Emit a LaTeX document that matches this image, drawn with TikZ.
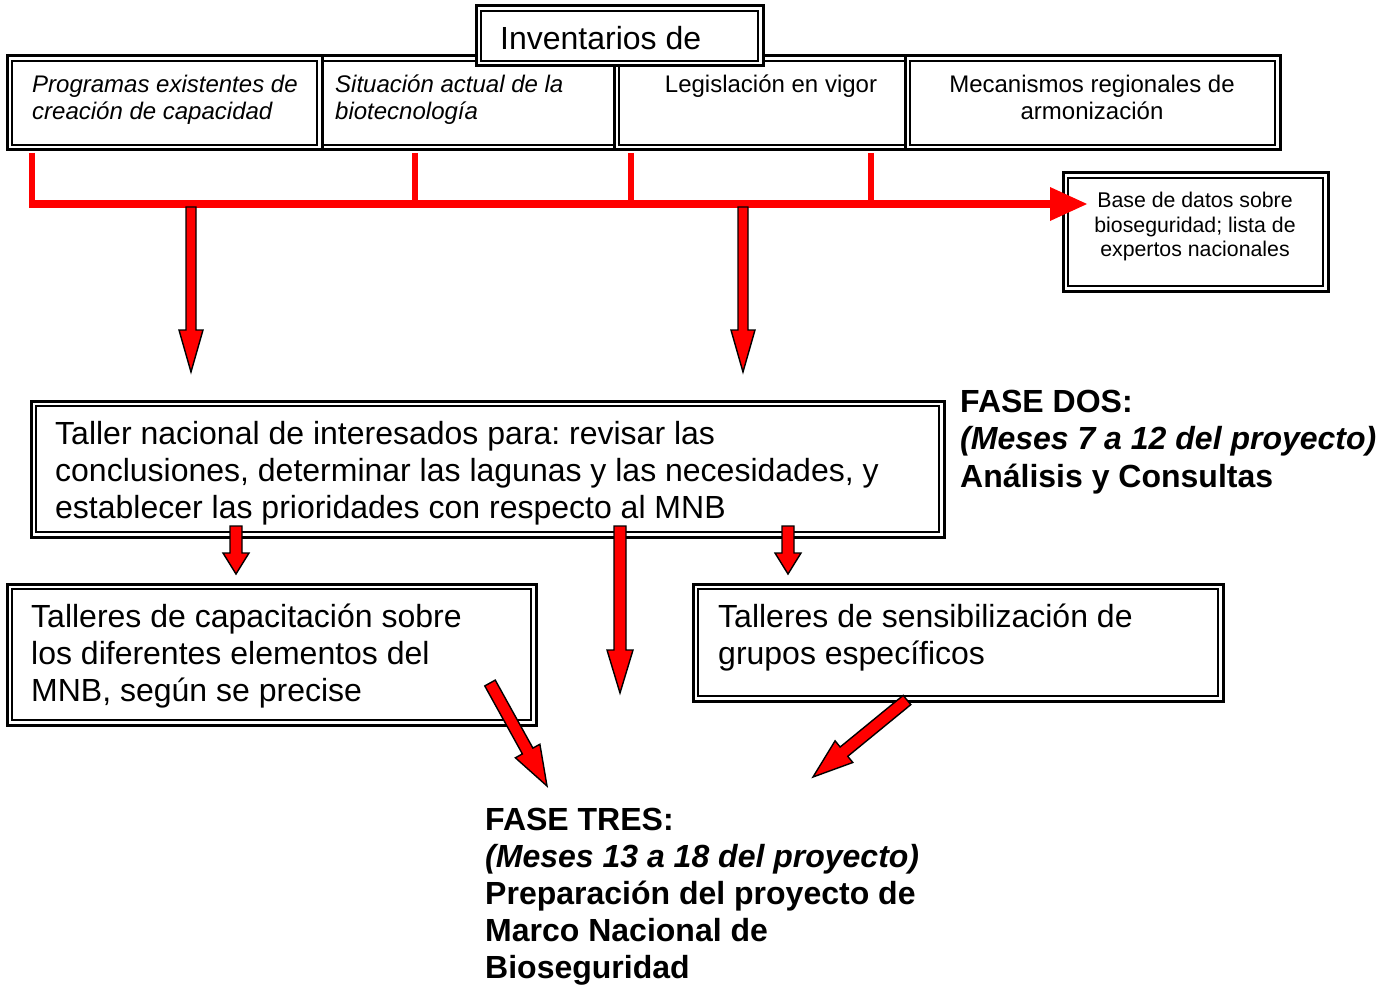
\documentclass[tikz,border=0pt]{standalone}
\usepackage{fontspec}
\setmainfont{Liberation Sans}
\usetikzlibrary{calc}
\frenchspacing

\tikzset{
  obox/.style={draw, line width=3pt, fill=white, inner sep=0pt, outer sep=0pt},
  ibox/.style={draw, line width=1.5pt},
  big/.style={font=\fontsize{32}{37}\selectfont},
  bigb/.style={font=\fontsize{32}{37.5}\selectfont\bfseries},
  bigc/.style={font=\fontsize{32}{37}\selectfont\bfseries},
  mid/.style={font=\fontsize{24}{27.5}\selectfont},
  midi/.style={font=\fontsize{24}{27.5}\selectfont\itshape},
  sml/.style={font=\fontsize{21.3}{24.5}\selectfont},
  txtl/.style={anchor=north west, inner sep=0pt, align=left},
  txtc/.style={anchor=north, inner sep=0pt, align=center},
  redline/.style={draw=red, line width=5.5pt},
  blockarrow/.style={fill=red, draw=black, line width=1.4pt, line join=miter},
}

\newcommand\dblbox[5]{%
  \node[obox, anchor=north west, minimum width={(#4-#2)*1pt}, minimum height={(#5-#3)*1pt}] (#1) at (#2,#3) {};
  \draw[ibox] ([shift={(5,-5)}]#1.south west) rectangle ([shift={(-5,5)}]#1.north east);
}

\newcommand\blockarr[5]{%
  \coordinate (hb) at ($(#2)!#5!(#1)$);
  \draw[blockarrow] ($(#1)!#3!90:(#2)$) -- ($(hb)!#3!90:(#2)$) -- ($(hb)!#4!90:(#2)$) -- (#2)
     -- ($(hb)!#4!-90:(#2)$) -- ($(hb)!#3!-90:(#2)$) -- ($(#1)!#3!-90:(#2)$) -- cycle;
}

\begin{document}
\begin{tikzpicture}[x=1pt,y=-1pt]
\useasboundingbox (0,0) rectangle (1396,987);
\fill[white] (0,0) rectangle (1396,987);

% top row of boxes
\dblbox{b2}{316}{56}{625}{150}
\dblbox{b1}{7}{56}{322}{150}
\dblbox{b3}{614}{56}{927}{150}
\dblbox{b4}{905}{56}{1280}{150}
\dblbox{inv}{476}{6}{763}{66}

\node[txtl, midi] (t1) at (32,73) {\strut Programas existentes de\\creación de capacidad};
\node[txtl, midi] (t2) at (335,73) {\strut Situación actual de la\\biotecnología};
\node[txtc, mid] (t3) at (771,73) {\strut Legislación en vigor};
\node[txtc, mid] (t4) at (1092,73) {\strut Mecanismos regionales de\\armonización};
\node[txtl, big] (tinv) at (500,23.6) {\strut Inventarios de};

% database box
\dblbox{base}{1063}{173}{1328}{291}
\node[txtc, sml] (tbase) at (1195,190.5) {\strut Base de datos sobre\\bioseguridad; lista de\\expertos nacionales};

% red connectors
\coordinate (c1) at (32,153);
\coordinate (c2) at (415,153);
\coordinate (c3) at (631,153);
\coordinate (c4) at (871,153);
\coordinate (hL) at (29,204);
\coordinate (hR) at (1087,204);
\coordinate (hA) at (1052,204);
\draw[redline] (c1) -- (c1 |- hL);
\draw[redline] (c2) -- (c2 |- hL);
\draw[redline] (c3) -- (c3 |- hL);
\draw[redline] (c4) -- (c4 |- hL);
\draw[red, line width=8pt] (hL) -- (hA);
\fill[red] (hR) -- ($(hA)+(-2,-17)$) -- ($(hA)+(-2,17)$) -- cycle;

% big down arrows
\coordinate (a1s) at (191,207);
\coordinate (a1e) at (191,372);
\coordinate (a2s) at (743,207);
\coordinate (a2e) at (743,372);
\blockarr{a1s}{a1e}{5pt}{12pt}{42pt}
\blockarr{a2s}{a2e}{5pt}{12pt}{42pt}

% workshop box
\dblbox{taller}{31}{401}{944}{537}
\node[txtl, big] (ttaller) at (55,418.6) {\strut Taller nacional de interesados para: revisar las\\conclusiones, determinar las lagunas y las necesidades, y\\establecer las prioridades con respecto al MNB};

\node[txtl, bigb] (fdos) at (960,386) {\strut FASE DOS:\\\textit{(Meses 7 a 12 del proyecto)}\\Análisis y Consultas};

% lower boxes
\dblbox{cap}{7}{584}{536}{725}
\node[txtl, big] (tcap) at (31,601.6) {\strut Talleres de capacitación sobre\\los diferentes elementos del\\MNB, según se precise};
\dblbox{sens}{693}{584}{1223}{701}
\node[txtl, big] (tsens) at (718,601.6) {\strut Talleres de sensibilización de\\grupos específicos};

% small arrows
\coordinate (s1s) at (236,526);
\coordinate (s1e) at (236,574);
\coordinate (s2s) at (620,526);
\coordinate (s2e) at (620,693);
\coordinate (s3s) at (788,526);
\coordinate (s3e) at (788,574);
\blockarr{s1s}{s1e}{6pt}{13pt}{21pt}
\blockarr{s2s}{s2e}{6pt}{13pt}{43pt}
\blockarr{s3s}{s3e}{6pt}{13pt}{21pt}

% diagonal arrows
\coordinate (d1s) at (490,683);
\coordinate (d1e) at (547,786);
\coordinate (d2s) at (907,700);
\coordinate (d2e) at (813,777);
\blockarr{d1s}{d1e}{6pt}{14pt}{40pt}
\blockarr{d2s}{d2e}{6pt}{14pt}{40pt}

\node[txtl, bigc] (ftres) at (485,804.5) {\strut FASE TRES:\\\textit{(Meses 13 a 18 del proyecto)}\\Preparación del proyecto de\\Marco Nacional de\\Bioseguridad};
\end{tikzpicture}
\end{document}
